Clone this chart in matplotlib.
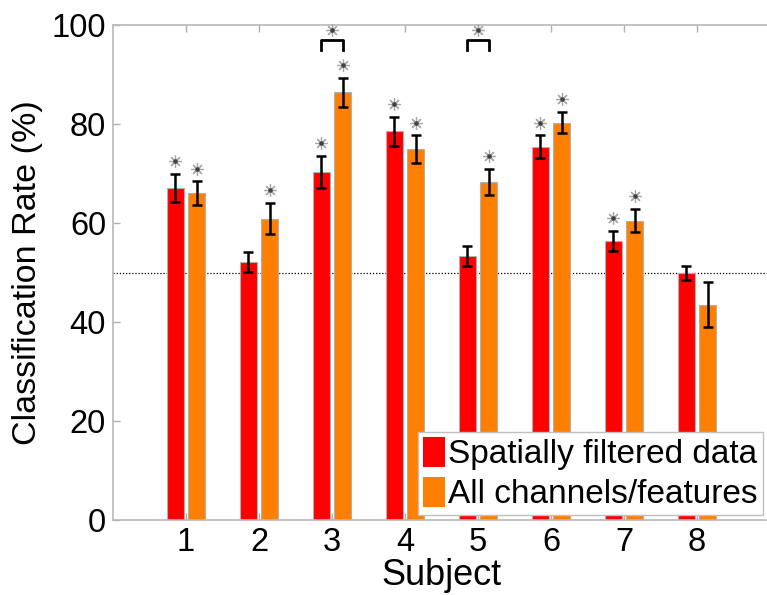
import matplotlib
matplotlib.use("Agg")
import matplotlib.pyplot as plt
import numpy as np

subjects = [1, 2, 3, 4, 5, 6, 7, 8]
spatial = [67.1, 52.2, 70.3, 78.5, 53.3, 75.4, 56.4, 49.9]
spatial_err = [2.9, 2.0, 3.3, 2.9, 2.0, 2.3, 2.0, 1.4]
allch = [66.0, 60.9, 86.4, 74.9, 68.3, 80.3, 60.5, 43.5]
allch_err = [2.4, 3.1, 2.9, 2.8, 2.6, 2.2, 2.4, 4.6]
spatial_sig = [1, 0, 1, 1, 0, 1, 1, 0]
allch_sig = [1, 1, 1, 1, 1, 1, 1, 0]
pair_sig = [3, 5]
chance = 50
yticks = [0, 20, 40, 60, 80, 100]

plt.rcParams['font.family'] = ['Liberation Sans', 'DejaVu Sans']

fig = plt.figure(figsize=(7.67, 5.95), dpi=100)
ax = fig.add_axes([113/767, 75/595, 657/767, 495/595])

x = np.array(subjects, dtype=float)
off = 0.144
w = 0.22
red = '#ff0000'
orange = '#ff8000'
edge = '#b0b0b0'

ax.axhline(chance, color='black', linestyle=(0, (1, 1.5)), linewidth=0.9, zorder=1)

ax.bar(x - off, spatial, w, color=red, edgecolor=edge, linewidth=0.8, zorder=2,
       label='Spatially filtered data')
ax.bar(x + off, allch, w, color=orange, edgecolor=edge, linewidth=0.8, zorder=2,
       label='All channels/features')
ax.errorbar(x - off, spatial, yerr=spatial_err, fmt='none', ecolor='black',
            elinewidth=1.8, capsize=3.5, capthick=1.8, zorder=3)
ax.errorbar(x + off, allch, yerr=allch_err, fmt='none', ecolor='black',
            elinewidth=1.8, capsize=3.5, capthick=1.8, zorder=3)

def star(xp, yp):
    ax.plot([xp], [yp], marker=(8, 2, 0), markersize=9, color='#a8a8a8',
            markeredgewidth=0.9, linestyle='none', zorder=4, clip_on=False)
    ax.plot([xp], [yp], marker='o', markersize=2.2, color='#404040',
            linestyle='none', zorder=5, clip_on=False)

gap = 2.6
for i, s in enumerate(subjects):
    if spatial_sig[i]:
        star(s - off, spatial[i] + spatial_err[i] + gap)
    if allch_sig[i]:
        star(s + off, allch[i] + allch_err[i] + gap)

for s in pair_sig:
    ax.plot([s - off, s - off, s + off, s + off], [94.9, 97.0, 97.0, 94.9],
            color='black', linewidth=2.0, zorder=4, clip_on=False)
    star(s, 98.9)

ax.set_xlim(0, 9)
ax.set_ylim(0, 100)
ax.set_xticks(subjects)
ax.set_yticks(yticks)
ax.tick_params(axis='both', direction='in', length=5, width=1, color='#b0b0b0',
               labelsize=23.5, labelcolor='black', top=True, right=False, pad=5)
for sp in ax.spines.values():
    sp.set_color('#b8b8b8')
    sp.set_linewidth(1.2)
ax.spines['right'].set_visible(False)

ax.set_xlabel('Subject', fontsize=26, labelpad=0)
ax.set_ylabel('Classification Rate (%)', fontsize=24.5, labelpad=6)

leg = ax.legend(loc='lower right', bbox_to_anchor=(0.989, 0.01), borderaxespad=0,
                fontsize=24, handlelength=0.65, handleheight=1.0, handletextpad=0.1,
                labelspacing=0.2, borderpad=0.15, frameon=True, fancybox=False,
                framealpha=1)
leg.get_frame().set_edgecolor('#c0c0c0')
leg.get_frame().set_linewidth(1.0)
for p in leg.get_patches():
    p.set_edgecolor('none')

fig.savefig('out.png', dpi=100)
